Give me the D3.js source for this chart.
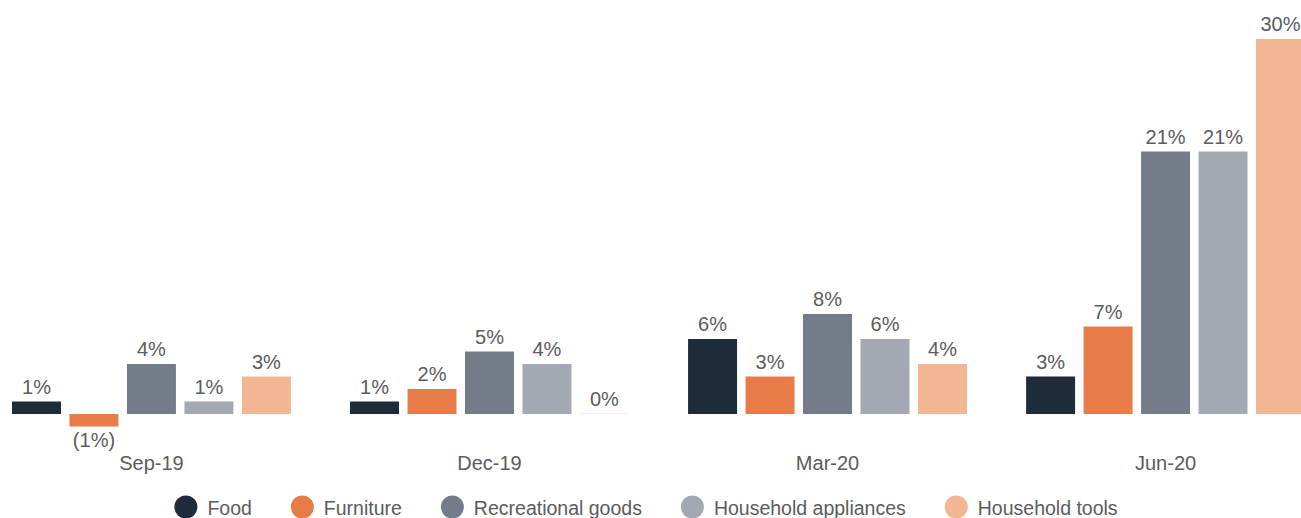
<!DOCTYPE html>
<html>
<head>
<meta charset="utf-8">
<script src="https://cdn.jsdelivr.net/npm/d3@7"></script>
<style>
  body { margin: 0; background: #fff; }
  text { font-family: "Liberation Sans", Arial, sans-serif; fill: #5c5c5c; }
</style>
</head>
<body>
<svg width="1301" height="518"></svg>
<script>
var quarters = ["Sep-19", "Dec-19", "Mar-20", "Jun-20"];
var seriesNames = ["Food", "Furniture", "Recreational goods", "Household appliances", "Household tools"];
var food = [1, 1, 6, 3];
var furniture = [-1, 2, 3, 7];
var recreational = [4, 5, 8, 21];
var appliances = [1, 4, 6, 21];
var tools = [3, 0, 4, 30];
var colors = ["#1e2b3b", "#e87c49", "#757c89", "#a4a8b2", "#f3b693"];

var allSeries = [food, furniture, recreational, appliances, tools];

var svg = d3.select("svg");

var x0 = d3.scaleBand()
    .domain(quarters)
    .range([12, 1305])
    .paddingInner(0.175)
    .paddingOuter(0);

var x1 = d3.scaleBand()
    .domain(seriesNames)
    .range([0, x0.bandwidth()])
    .paddingInner(0.148)
    .paddingOuter(0);

var y = d3.scaleLinear()
    .domain([0, 30])
    .range([414, 39]);

var color = d3.scaleOrdinal().domain(seriesNames).range(colors);

var rows = quarters.map(function(q, i) {
    return {
        quarter: q,
        values: seriesNames.map(function(s, j) { return {key: s, value: allSeries[j][i]}; })
    };
});

function fmt(v) {
    return v < 0 ? "(" + Math.abs(v) + "%)" : v + "%";
}

var groups = svg.append("g").selectAll("g")
    .data(rows)
    .enter().append("g")
    .attr("transform", function(d) { return "translate(" + x0(d.quarter) + ",0)"; });

groups.selectAll("rect")
    .data(function(d) { return d.values; })
    .enter().append("rect")
    .attr("x", function(d) { return x1(d.key); })
    .attr("y", function(d) { return d.value >= 0 ? y(d.value) - (d.value === 0 ? 0.6 : 0) : y(0); })
    .attr("width", x1.bandwidth())
    .attr("height", function(d) { return Math.max(Math.abs(y(d.value) - y(0)), 0.6); })
    .attr("fill", function(d) { return color(d.key); })
    .attr("fill-opacity", function(d) { return d.value === 0 ? 0.4 : 1; });

groups.selectAll("text.val")
    .data(function(d) { return d.values; })
    .enter().append("text")
    .attr("class", "val")
    .attr("x", function(d) { return x1(d.key) + x1.bandwidth() / 2; })
    .attr("y", function(d) { return d.value >= 0 ? y(d.value) - 8 : y(d.value) + 20; })
    .attr("text-anchor", "middle")
    .style("font-size", "20px")
    .text(function(d) { return fmt(d.value); });

// category axis, no line or ticks
var xAxis = svg.append("g")
    .attr("transform", "translate(0,454)")
    .call(d3.axisBottom(x0).tickSize(0).tickPadding(0));
xAxis.select(".domain").remove();
xAxis.selectAll("text")
    .attr("dy", "0")
    .attr("y", 16)
    .style("font-size", "20px")
    .style("font-family", "'Liberation Sans', Arial, sans-serif")
    .attr("fill", "#5c5c5c");

// legend, centred
var legend = svg.append("g").attr("transform", "translate(0,507)");
var items = legend.selectAll("g")
    .data(seriesNames)
    .enter().append("g");
items.append("circle")
    .attr("r", 11.5)
    .attr("cx", 11.5)
    .attr("cy", 0)
    .attr("fill", function(d) { return color(d); });
items.append("text")
    .attr("x", 33)
    .attr("y", 8)
    .style("font-size", "19.5px")
    .text(function(d) { return d; });

var gap = 39;
var xpos = 0;
items.each(function() {
    var w = 33 + this.querySelector("text").getComputedTextLength();
    d3.select(this).attr("transform", "translate(" + xpos + ",0)");
    xpos += w + gap;
});
var total = xpos - gap;
legend.attr("transform", "translate(" + (646 - total / 2) + ",507)");
</script>
</body>
</html>
